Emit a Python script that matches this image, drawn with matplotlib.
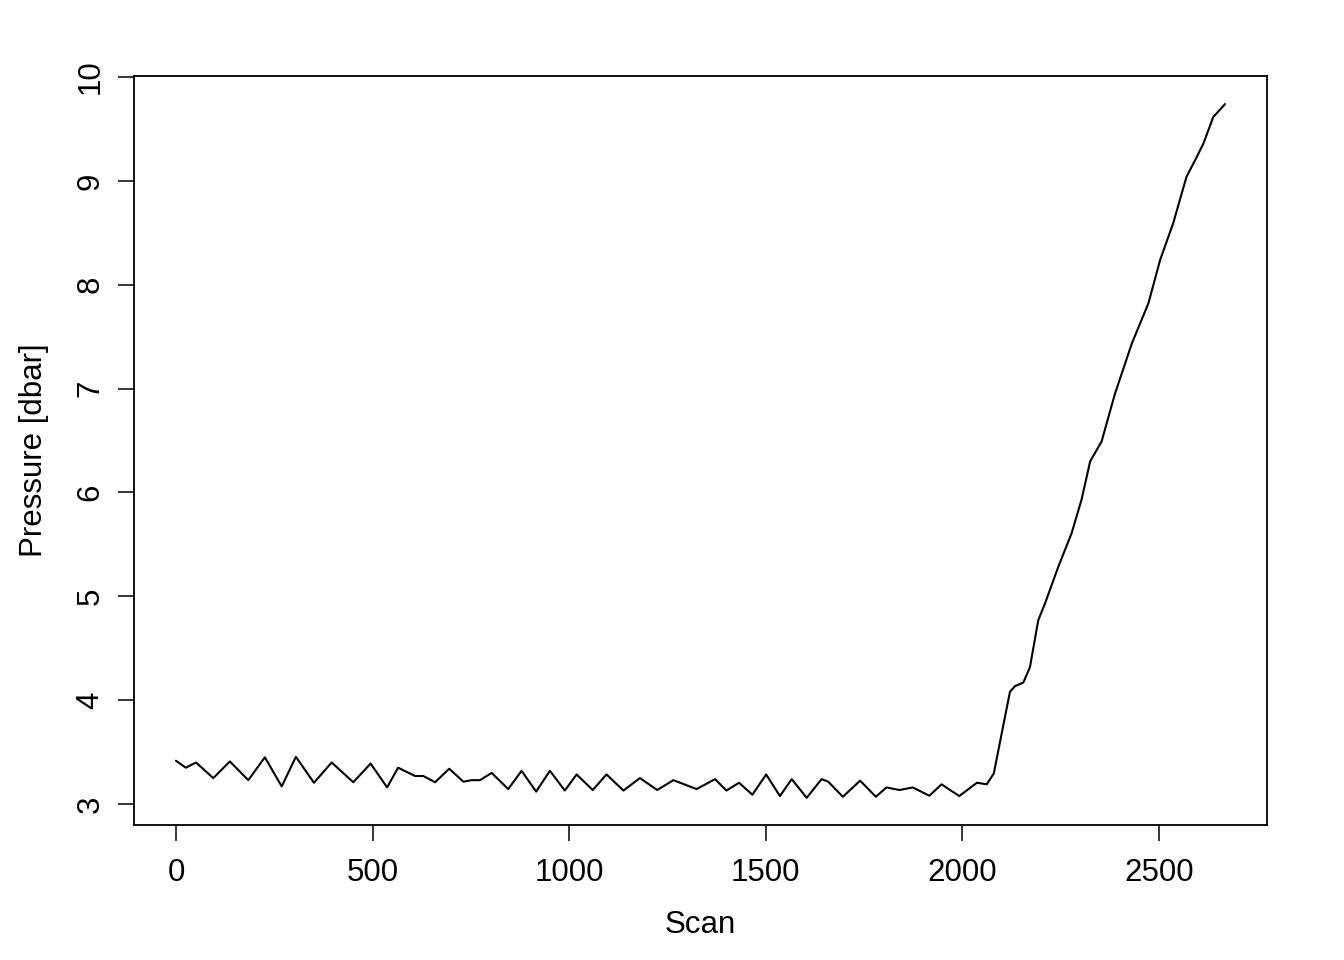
import matplotlib
matplotlib.use("Agg")
import matplotlib.pyplot as plt

# valores (scan, presion en dbar)
scan = [0, 25, 51, 95, 137, 184, 226, 269, 305, 351, 396, 451, 495, 537, 565,
        608, 629, 659, 695, 731, 752, 773, 803, 845, 879, 916, 951, 989, 1019,
        1060, 1095, 1138, 1180, 1224, 1265, 1324, 1371, 1400, 1432, 1466, 1501,
        1536, 1566, 1604, 1642, 1659, 1696, 1740, 1780, 1807, 1840, 1874, 1916,
        1947, 1992, 2037, 2062, 2080, 2100, 2121, 2134, 2155, 2172, 2193, 2210,
        2244, 2278, 2303, 2325, 2354, 2388, 2431, 2473, 2503, 2536, 2570, 2592,
        2613, 2638, 2668]
presion = [3.417, 3.35, 3.40, 3.25, 3.41, 3.23, 3.45, 3.17, 3.455, 3.205, 3.40,
           3.21, 3.39, 3.16, 3.35, 3.27, 3.27, 3.21, 3.34, 3.215, 3.23, 3.23,
           3.30, 3.144, 3.32, 3.12, 3.32, 3.13, 3.285, 3.135, 3.285, 3.13, 3.25,
           3.135, 3.23, 3.144, 3.24, 3.13, 3.205, 3.09, 3.285, 3.077, 3.24,
           3.06, 3.24, 3.215, 3.07, 3.225, 3.07, 3.16, 3.135, 3.16, 3.08, 3.19,
           3.077, 3.205, 3.19, 3.295, 3.68, 4.08, 4.136, 4.17, 4.32, 4.77, 4.93,
           5.285, 5.61, 5.93, 6.30, 6.49, 6.95, 7.435, 7.82, 8.24, 8.59, 9.04,
           9.20, 9.36, 9.615, 9.74]

xticks = [0, 500, 1000, 1500, 2000, 2500]
yticks = [3, 4, 5, 6, 7, 8, 9, 10]

plt.rcParams['font.family'] = ['Liberation Sans', 'DejaVu Sans']

fig = plt.figure(figsize=(13.44, 9.6), dpi=100)
ax = fig.add_axes([0.0997, 0.1406, 0.8430, 0.7802])
ax.plot(scan, presion, color='black', linewidth=1.5,
        solid_joinstyle='round', solid_capstyle='round')

ax.set_xlim(-106.7, 2774.7)
ax.set_ylim(2.798, 10.01)
ax.set_xticks(xticks)
ax.set_yticks(yticks)
ax.set_yticklabels([str(t) for t in yticks], rotation=90, va='center')
ax.tick_params(direction='out', length=11.5, width=1.1, labelsize=22.5, pad=12)
ax.tick_params(axis='y', pad=9)
for s in ax.spines.values():
    s.set_linewidth(1.3)

ax.set_xlabel('Scan', fontsize=22.5, labelpad=16)
ax.set_ylabel('Pressure [dbar]', fontsize=22.5, labelpad=19)

fig.savefig('out.png', dpi=100)
